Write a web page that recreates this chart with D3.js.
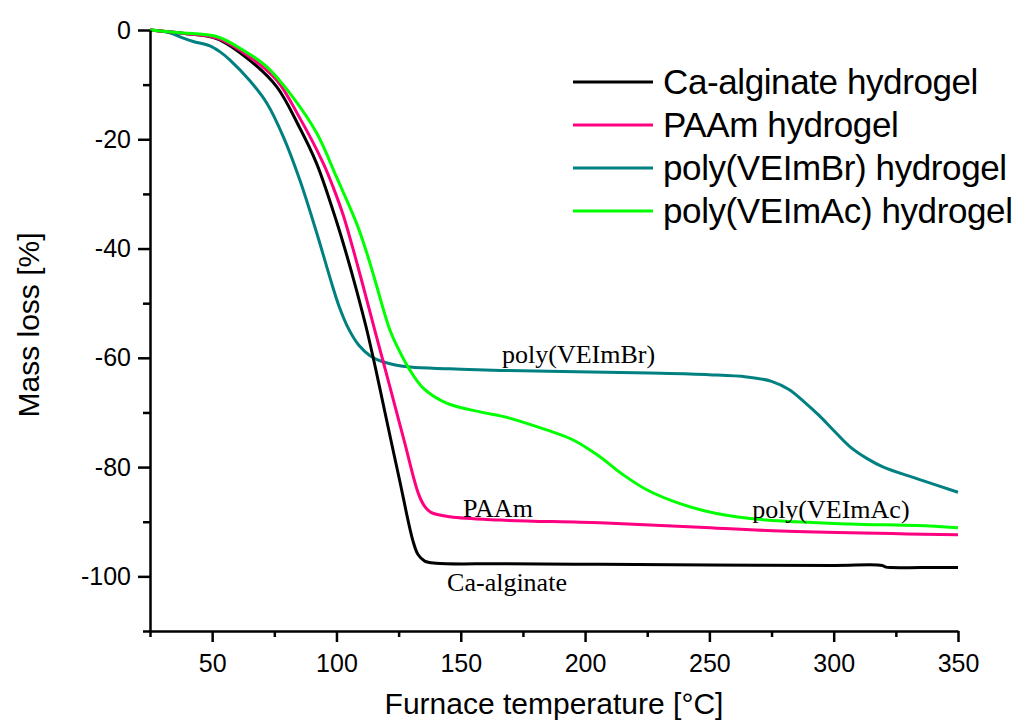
<!DOCTYPE html>
<html>
<head>
<meta charset="utf-8">
<script src="https://cdn.jsdelivr.net/npm/d3@7"></script>
<style>
  html, body { margin: 0; padding: 0; background: #fff; }
  svg { display: block; }
  .tick-label { font-family: "Liberation Sans", Arial, sans-serif; font-size: 25px; fill: #000; }
  .axis-title { font-family: "Liberation Sans", Arial, sans-serif; font-size: 30px; fill: #000; }
  .legend-text { font-family: "Liberation Sans", Arial, sans-serif; font-size: 35px; fill: #000; letter-spacing: -0.4px; }
  .note { font-family: "Liberation Serif", "Times New Roman", serif; font-size: 26px; fill: #000; }
</style>
</head>
<body>
<svg id="chart" width="1019" height="722"></svg>
<script>
// ── Data ─────────────────────────────────────────────────────────────────────
const seriesNames  = ['Ca-alginate hydrogel', 'PAAm hydrogel', 'poly(VEImBr) hydrogel', 'poly(VEImAc) hydrogel'];
const seriesColors = ['#000000', '#ff0080', '#008080', '#00ff00'];

const caTemp = [25, 38, 52, 65, 76, 85, 92, 100, 104, 108, 112, 116, 119.6, 125.4, 130.7, 132.8, 135.5, 140, 166, 206, 250, 300, 319.5, 321, 323, 335, 350];
const caMass = [0, -0.6, -1.6, -5.5, -10.4, -17.7, -24.4, -35, -41, -47.5, -54.5, -62.5, -70.2, -82.4, -93.4, -96, -97.2, -97.6, -97.7, -97.8, -97.9, -98, -98, -98.3, -98.4, -98.4, -98.4];

const paamTemp = [25, 38, 52, 65, 76, 85, 94.7, 98.7, 102.8, 106.5, 110.1, 115.8, 121.5, 127.2, 133, 135.5, 138, 145.7, 165.8, 206, 246, 273, 350];
const paamMass = [0, -0.6, -1.5, -4.9, -9.2, -15.9, -24.4, -28.8, -34, -39.8, -45.8, -55.6, -65.3, -75.1, -84.9, -87.2, -88.3, -89.1, -89.7, -90.2, -91, -91.6, -92.4];

const brTemp = [25, 33, 38.4, 42.4, 49.1, 53.2, 57.2, 65, 72, 78.6, 85.3, 92.1, 97.5, 101, 105, 109, 113.5, 120, 129.6, 145.7, 166, 226, 250, 265, 275, 282, 288, 294, 300, 306.6, 313.3, 320, 333.4, 350];
const brMass = [0, -0.5, -1.5, -2.1, -2.9, -4, -5.5, -9.2, -13.4, -19.5, -27.5, -37.2, -45.5, -50.5, -54.8, -57.7, -59.6, -60.9, -61.7, -62, -62.3, -62.8, -63.1, -63.5, -64.3, -65.8, -68, -70.5, -73.3, -76.3, -78.4, -80, -82.1, -84.6];

const acTemp = [25, 37, 51.8, 62.5, 71.9, 81.3, 92.1, 100, 108.1, 112.2, 115.5, 121.5, 125.6, 129.6, 135, 144.3, 157.7, 168.5, 184.5, 195, 205, 215, 225, 238.2, 252.9, 273, 306.6, 333.4, 350];
const acMass = [0, -0.5, -1.2, -3.7, -6.7, -11.6, -18.9, -26.9, -35.4, -40.8, -45.8, -54.9, -59, -62.3, -65.6, -68.3, -69.9, -70.9, -73.2, -75, -77.8, -81.3, -84.2, -86.7, -88.5, -89.7, -90.4, -90.7, -91.1];

const xMajorTicks = [50, 100, 150, 200, 250, 300, 350];
const xMinorTicks = [25, 75, 125, 175, 225, 275, 325];
const yMajorTicks = [0, -20, -40, -60, -80, -100];
const yMinorTicks = [-10, -30, -50, -70, -90, -110];

// curve labels, anchored in data coordinates (temperature, mass loss)
const noteText = ['poly(VEImBr)', 'PAAm', 'Ca-alginate', 'poly(VEImAc)'];
const noteTemp = [166.6, 150.9, 144.5, 267.2];
const noteMass = [-61, -89.2, -102.6, -89.4];

// ── Layout ───────────────────────────────────────────────────────────────────
const svg = d3.select('#chart');
const x = d3.scaleLinear().domain([25, 350]).range([150, 958]);
const y = d3.scaleLinear().domain([-110, 0]).range([631, 30]);

const series = [
  { temp: caTemp,   mass: caMass },
  { temp: paamTemp, mass: paamMass },
  { temp: brTemp,   mass: brMass },
  { temp: acTemp,   mass: acMass },
];

// ── Curves ───────────────────────────────────────────────────────────────────
const line = d3.line()
  .x(d => x(d[0]))
  .y(d => y(d[1]))
  .curve(d3.curveCatmullRom.alpha(0.5));

const curvesG = svg.append('g');
// draw order: green ends up on top, like the original
[2, 0, 1, 3].forEach(i => {
  const s = series[i];
  const pts = s.temp.map((t, j) => [t, s.mass[j]]);
  curvesG.append('path')
    .attr('d', line(pts))
    .attr('fill', 'none')
    .attr('stroke', seriesColors[i])
    .attr('stroke-width', 3)
    .attr('stroke-linejoin', 'round');
});

// ── Axes ─────────────────────────────────────────────────────────────────────
const axisStroke = 2.5;
const plainFmt = d => String(d);   // hyphen minus, like the original

const xAxis = svg.append('g').attr('transform', `translate(0,${y(-110)})`);
xAxis.call(d3.axisBottom(x).tickValues(xMajorTicks).tickFormat(plainFmt).tickSize(11).tickSizeOuter(0).tickPadding(12))
  .call(ax => ax.select('.domain').attr('stroke-width', axisStroke).attr('stroke', '#000'))
  .call(ax => ax.selectAll('.tick line').attr('stroke-width', axisStroke))
  .call(ax => ax.selectAll('.tick text').attr('class', 'tick-label').attr('font-size', null).attr('font-family', null));
xAxis.append('g')
  .call(d3.axisBottom(x).tickValues(xMinorTicks).tickSize(6).tickFormat(''))
  .call(ax => ax.select('.domain').remove())
  .call(ax => ax.selectAll('.tick line').attr('stroke-width', axisStroke));

const yAxis = svg.append('g').attr('transform', `translate(${x(25)},0)`);
yAxis.call(d3.axisLeft(y).tickValues(yMajorTicks).tickFormat(plainFmt).tickSize(12).tickSizeOuter(0).tickPadding(7))
  .call(ax => ax.select('.domain').attr('stroke-width', axisStroke).attr('stroke', '#000'))
  .call(ax => ax.selectAll('.tick line').attr('stroke-width', axisStroke))
  .call(ax => ax.selectAll('.tick text').attr('class', 'tick-label').attr('font-size', null).attr('font-family', null));
yAxis.append('g')
  .call(d3.axisLeft(y).tickValues(yMinorTicks).tickSize(7).tickFormat(''))
  .call(ax => ax.select('.domain').remove())
  .call(ax => ax.selectAll('.tick line').attr('stroke-width', axisStroke));

// Axis titles
svg.append('text')
  .attr('class', 'axis-title')
  .attr('x', 554).attr('y', 714)
  .attr('text-anchor', 'middle')
  .text('Furnace temperature [°C]');

svg.append('text')
  .attr('class', 'axis-title')
  .attr('transform', 'translate(39,325) rotate(-90)')
  .attr('text-anchor', 'middle')
  .text('Mass loss [%]');

// ── Curve labels ─────────────────────────────────────────────────────────────
svg.append('g').selectAll('text')
  .data(noteText)
  .join('text')
    .attr('class', 'note')
    .attr('x', (d, i) => x(noteTemp[i]))
    .attr('y', (d, i) => y(noteMass[i]))
    .text(d => d);

// ── Legend ───────────────────────────────────────────────────────────────────
const legend = svg.append('g').attr('transform', 'translate(573,82)');
seriesNames.forEach((name, i) => {
  const row = legend.append('g').attr('transform', `translate(0,${i * 43})`);
  row.append('line')
    .attr('x1', 0).attr('x2', 80)
    .attr('stroke', seriesColors[i])
    .attr('stroke-width', 3);
  row.append('text')
    .attr('class', 'legend-text')
    .attr('x', 90).attr('y', 12)
    .text(name);
});
</script>
</body>
</html>
